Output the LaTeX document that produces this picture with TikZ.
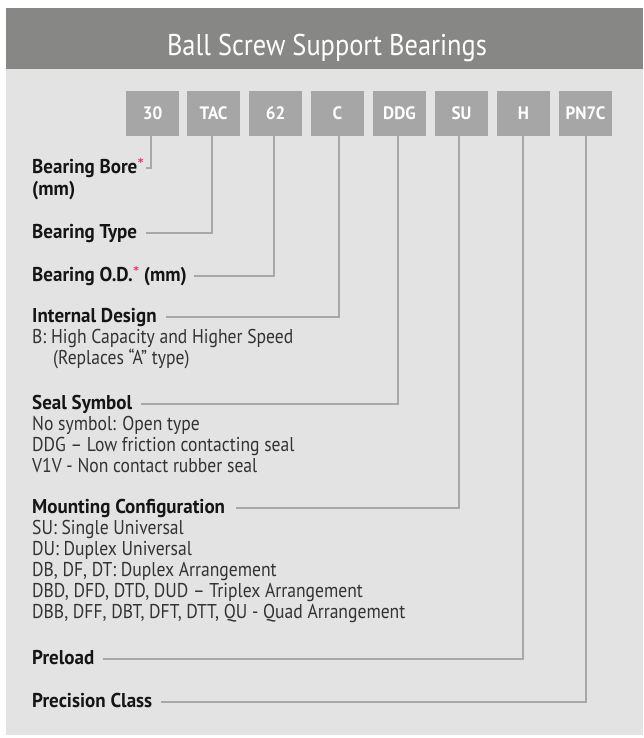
\documentclass[tikz,border=0pt]{standalone}
\usepackage{fontspec}
\setmainfont{PT Sans}[FakeStretch=0.88,BoldFeatures={FakeStretch=0.95}]
\newfontfamily\starfont{DejaVu Sans}
\definecolor{hdr}{HTML}{878785}
\definecolor{bgc}{HTML}{E3E3E3}
\definecolor{boxc}{HTML}{A6A6A6}
\definecolor{connc}{HTML}{A8A8A8}
\definecolor{txtc}{HTML}{151515}
\definecolor{descc}{HTML}{333333}
\definecolor{starc}{HTML}{E5306A}
\newcommand{\redstar}{\kern0.5pt\raisebox{7pt}{\starfont\fontsize{11}{11}\selectfont\textcolor{starc}{*}}}
\tikzset{
  titletext/.style={text=white, inner sep=0pt, anchor=base, font=\fontsize{30}{30}\selectfont},
  codebox/.style={fill=boxc, minimum width=53pt, minimum height=45pt, inner sep=0pt, text=white,
    text height=13pt, text depth=0pt, font=\fontsize{18}{18}\selectfont\bfseries},
  lab/.style={anchor=base west, inner sep=0pt, text=txtc, font=\fontsize{20}{21}\selectfont\bfseries},
  desc/.style={anchor=base west, inner sep=0pt, text=descc, font=\fontsize{20}{21}\selectfont},
  connline/.style={draw=connc, line width=2pt},
}
\begin{document}
\begin{tikzpicture}[x=1pt,y=-1pt]
\useasboundingbox (0,0) rectangle (643,738);
\fill[white] (0,0) rectangle (643,738);
\fill[bgc] (6,69) rectangle (643,735);
\fill[hdr] (6,8) rectangle (643,69);
\node[titletext] (title) at (327,56) {Ball Screw Support Bearings};

\node[codebox] (b30) at (152.5,113.5) {30};
\node[codebox] (btac) at (213.5,113.5) {TAC};
\node[codebox] (b62) at (275.5,113.5) {62};
\node[codebox] (bc) at (337.5,113.5) {C};
\node[codebox] (bddg) at (399.5,113.5) {DDG};
\node[codebox] (bsu) at (461.5,113.5) {SU};
\node[codebox] (bh) at (523.5,113.5) {H};
\node[codebox] (bpn) at (585.5,113.5) {PN7C};

\node[lab] (bore) at (32,174) {Bearing Bore\redstar};
\node[lab] (boremm) at (32,195) {(mm)};
\node[lab] (type) at (32,238) {Bearing Type};
\node[lab] (od) at (32,281) {Bearing O.D.\redstar\ (mm)};
\node[lab] (intd) at (32,322) {Internal Design};
\node[desc] (intd1) at (32,343) {B: High Capacity and Higher Speed};
\node[desc] (intd2) at (53,364) {(Replaces “A” type)};
\node[lab] (seal) at (32,409) {Seal Symbol};
\node[desc] (seal1) at (32,430) {No symbol: Open type};
\node[desc] (seal2) at (32,451) {DDG – Low friction contacting seal};
\node[desc] (seal3) at (32,472) {V1V - Non contact rubber seal};
\node[lab] (mount) at (32,513) {Mounting Configuration};
\node[desc] (mount1) at (32,534) {SU: Single Universal};
\node[desc] (mount2) at (32,555) {DU: Duplex Universal};
\node[desc] (mount3) at (32,576) {DB, DF, DT: Duplex Arrangement};
\node[desc] (mount4) at (32,597) {DBD, DFD, DTD, DUD – Triplex Arrangement};
\node[desc] (mount5) at (32,618) {DBB, DFF, DBT, DFT, DTT, QU - Quad Arrangement};
\node[lab] (pre) at (32,664) {Preload};
\node[lab] (prec) at (32,707) {Precision Class};

\draw[connline] ([xshift=2pt,yshift=6pt]bore.base east) -| ([xshift=-2pt]b30.south);
\draw[connline] ([xshift=9pt,yshift=5pt]type.base east) -| ([xshift=-1.5pt]btac.south);
\draw[connline] ([xshift=7pt,yshift=5pt]od.base east) -| ([xshift=-1.5pt]b62.south);
\draw[connline] ([xshift=9pt,yshift=5pt]intd.base east) -| ([xshift=1.5pt]bc.south);
\draw[connline] ([xshift=9pt,yshift=5pt]seal.base east) -| ([xshift=-1.5pt]bddg.south);
\draw[connline] ([xshift=11pt,yshift=5pt]mount.base east) -| ([xshift=-3pt]bsu.south);
\draw[connline] ([xshift=9pt,yshift=5pt]pre.base east) -| ([xshift=-1pt]bh.south);
\draw[connline] ([xshift=9pt,yshift=5pt]prec.base east) -| ([xshift=0pt]bpn.south);
\end{tikzpicture}
\end{document}
